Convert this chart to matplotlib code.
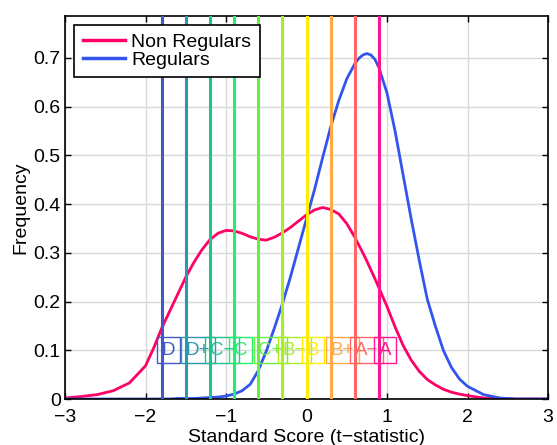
import numpy as np
import matplotlib.pyplot as plt

plt.rcParams['font.family'] = ['Liberation Sans', 'DejaVu Sans']

# Standard score grid and the two frequency curves
t_vals = [-3.0, -2.8, -2.6, -2.4, -2.2, -2.0, -1.9, -1.8, -1.7, -1.6, -1.5, -1.4, -1.3,
          -1.2, -1.1, -1.0, -0.9, -0.8, -0.7, -0.6, -0.5, -0.4, -0.3, -0.2, -0.1, 0.0,
          0.1, 0.2, 0.3, 0.4, 0.5, 0.6, 0.65, 0.7, 0.75, 0.8, 0.85, 0.9, 1.0, 1.1, 1.2,
          1.3, 1.4, 1.5, 1.6, 1.7, 1.8, 1.9, 2.0, 2.2, 2.4, 2.6, 2.8, 3.0]
non_regulars = [0.002, 0.005, 0.009, 0.017, 0.033, 0.068, 0.104, 0.145, 0.18, 0.215, 0.25,
                0.28, 0.306, 0.327, 0.34, 0.346, 0.345, 0.34, 0.333, 0.328, 0.326, 0.332,
                0.341, 0.352, 0.365, 0.378, 0.388, 0.393, 0.389, 0.38, 0.36, 0.332, 0.316,
                0.3, 0.283, 0.265, 0.247, 0.228, 0.19, 0.148, 0.11, 0.08, 0.057, 0.04,
                0.029, 0.02, 0.014, 0.01, 0.007, 0.002, 0.001, 0.0, 0.0, 0.0]
regulars = [0.0, 0.0, 0.0, 0.0, 0.0, 0.0, 0.0, 0.0, 0.0, 0.001, 0.001, 0.001, 0.002,
            0.003, 0.004, 0.006, 0.01, 0.017, 0.03, 0.058, 0.098, 0.145, 0.195, 0.25,
            0.31, 0.37, 0.43, 0.495, 0.558, 0.612, 0.657, 0.688, 0.699, 0.706, 0.709,
            0.706, 0.697, 0.68, 0.628, 0.55, 0.46, 0.37, 0.285, 0.205, 0.15, 0.1, 0.065,
            0.041, 0.026, 0.009, 0.002, 0.0, 0.0, 0.0]

# Grade cut-offs
grades = ['D', 'D+', 'C\u2212', 'C', 'C+', 'B\u2212', 'B', 'B+', 'A\u2212', 'A']
cutoffs = [-1.8, -1.5, -1.2, -0.9, -0.6, -0.3, 0.0, 0.3, 0.6, 0.9]
grade_colors = ['#4358c8', '#2b98b0', '#1fc38f', '#22ee70', '#66ee44',
                '#aaee22', '#ffee00', '#ffaa44', '#ff6666', '#ff1493']
label_y = 0.1

fig = plt.figure(figsize=(5.57, 4.45), dpi=100)
ax = fig.add_axes([65/557, 46/445, 483/557, 383/445])

ax.plot(t_vals, non_regulars, color='#ff0066', lw=2.0, label='Non Regulars')
ax.plot(t_vals, regulars, color='#3355ee', lw=2.0, label='Regulars')

for x, g, c in zip(cutoffs, grades, grade_colors):
    ax.axvline(x, color=c, lw=2.2, zorder=3)
    ax.text(x, label_y, g, color=c, fontsize=13.5, ha='left', va='center', zorder=4,
            bbox=dict(boxstyle='square,pad=0.25', fc='none', ec=c, lw=1.0))

ax.set_xlim(-3, 3)
ax.set_ylim(0, 0.786)
ax.set_xticks([-3, -2, -1, 0, 1, 2, 3])
ax.set_yticks([0, 0.1, 0.2, 0.3, 0.4, 0.5, 0.6, 0.7])
ax.set_yticklabels(['0', '0.1', '0.2', '0.3', '0.4', '0.5', '0.6', '0.7'])
ax.grid(True, color='#d9d9d9', lw=1.0)
ax.set_axisbelow(True)
ax.tick_params(direction='in', top=True, right=True, labelsize=14, length=4, width=1)
ax.tick_params(axis='x', pad=7)
ax.tick_params(axis='y', pad=3)
for s in ax.spines.values():
    s.set_linewidth(1.2)

ax.set_xlabel('Standard Score (t\u2212statistic)', fontsize=14, labelpad=2)
ax.set_ylabel('Frequency', fontsize=14, labelpad=3)

leg = ax.legend(loc='upper left', fontsize=14, fancybox=False, framealpha=1,
                edgecolor='black', borderpad=0.45, labelspacing=0.0, handlelength=2.2,
                handletextpad=0.3, borderaxespad=0.45)
leg.get_frame().set_linewidth(1.2)
for h in leg.get_lines():
    h.set_linewidth(2.5)

fig.savefig('out.png', dpi=100)
